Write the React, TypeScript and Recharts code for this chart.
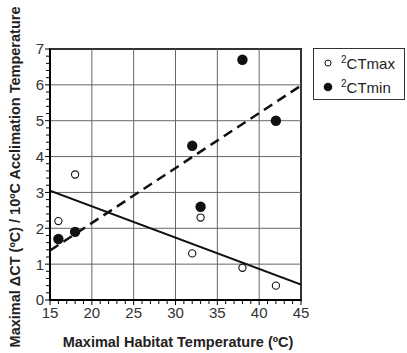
import React from 'react';
import {
  ComposedChart, XAxis, YAxis, Scatter, Line, ReferenceLine, ReferenceArea, Legend, Label,
} from 'recharts';

const xMajor = [15, 20, 25, 30, 35, 40, 45];
const yMajor = [0, 1, 2, 3, 4, 5, 6, 7];

const habitatTemp = [16, 18, 32, 33, 38, 42];
const ctMax = [2.2, 3.5, 1.3, 2.3, 0.9, 0.4];
const ctMin = [1.7, 1.9, 4.3, 2.6, 6.7, 5.0];

const fitX = [15, 45];
const ctMaxFit = [3.05, 0.43];
const ctMinFit = [1.38, 5.98];

// minor ticks: 1 unit on x, 0.2 on y
const xTicks: number[] = [];
for (let v = 15; v <= 45; v++) xTicks.push(v);
const yTicks: number[] = [];
for (let k = 0; k <= 35; k++) yTicks.push(Math.round(k * 2) / 10);

const maxData = habitatTemp.map((x, i) => ({ x, y: ctMax[i] }));
const minData = habitatTemp.map((x, i) => ({ x, y: ctMin[i] }));
const maxFitData = fitX.map((x, i) => ({ x, y: ctMaxFit[i] }));
const minFitData = fitX.map((x, i) => ({ x, y: ctMinFit[i] }));

const FONT = "Arial, 'Liberation Sans', sans-serif";
const isMajor = (v: number) => Math.abs(v - Math.round(v)) < 1e-6;

const XTick = (props: any) => {
  const { x, y, payload } = props;
  const major = xMajor.includes(payload.value);
  return (
    <g>
      <line x1={x} y1={y} x2={x} y2={y + (major ? 5 : 4)} stroke="#000" strokeWidth={1} />
      {major && (
        <text x={x} y={y + 18} textAnchor="middle" fontSize={15} fontFamily={FONT} fill="#333">
          {payload.value}
        </text>
      )}
    </g>
  );
};

const YTick = (props: any) => {
  const { x, y, payload } = props;
  const major = isMajor(payload.value) && yMajor.includes(Math.round(payload.value));
  return (
    <g>
      <line x1={x - (major ? 5 : 4)} y1={y} x2={x} y2={y} stroke="#000" strokeWidth={1} />
      {major && (
        <text x={x - 6} y={y} dy="0.36em" textAnchor="end" fontSize={15} fontFamily={FONT} fill="#333">
          {Math.round(payload.value)}
        </text>
      )}
    </g>
  );
};

const openDot = (p: any) => (
  <circle cx={p.cx} cy={p.cy} r={3.6} fill="#fff" stroke="#111" strokeWidth={1.1} />
);
const fullDot = (p: any) => <circle cx={p.cx} cy={p.cy} r={5.2} fill="#111" />;

const renderLegend = () => (
  <div
    style={{
      boxSizing: 'border-box', width: 92, height: 52, border: '1px solid #333',
      fontFamily: FONT, fontSize: 15, color: '#222', background: '#fff',
    }}
  >
    <div style={{ display: 'flex', alignItems: 'center', height: 24, marginTop: 2 }}>
      <svg width={27} height={12}><circle cx={14} cy={6} r={3} fill="#fff" stroke="#111" /></svg>
      <span><span style={{ fontSize: 10, verticalAlign: 'super', lineHeight: 0 }}>2</span>CTmax</span>
    </div>
    <div style={{ display: 'flex', alignItems: 'center', height: 24 }}>
      <svg width={27} height={12}><circle cx={14} cy={6} r={4.3} fill="#111" /></svg>
      <span><span style={{ fontSize: 10, verticalAlign: 'super', lineHeight: 0 }}>2</span>CTmin</span>
    </div>
  </div>
);

const xTitle = () => (
  <text x={178} y={347} textAnchor="middle" fontSize={14.5} fontWeight="bold" fontFamily={FONT} fill="#222">
    Maximal Habitat Temperature (ºC)
  </text>
);

const yTitle = () => (
  <text transform="translate(20,177) rotate(-90)" textAnchor="middle" fontSize={14.5} fontWeight="bold" fontFamily={FONT} fill="#222">
    Maximal ΔCT (ºC) / 10ºC Acclimation Temperature
  </text>
);

export default function App() {
  return (
    <div style={{ position: 'absolute', left: 0, top: 0, background: '#fff' }}>
      <ComposedChart width={407} height={353} margin={{ top: 49, right: 106, bottom: 23, left: 0 }}>
        <XAxis
          type="number" dataKey="x" domain={[15, 45]} ticks={xTicks} interval={0}
          allowDataOverflow height={30} tickSize={0} tickMargin={0} tickLine={false}
          axisLine={{ stroke: '#000', strokeWidth: 2 }} tick={<XTick />}
        >
          <Label content={xTitle} />
        </XAxis>
        <YAxis
          type="number" dataKey="y" domain={[0, 7]} ticks={yTicks} interval={0}
          allowDataOverflow width={50} tickSize={0} tickMargin={0} tickLine={false}
          axisLine={{ stroke: '#000', strokeWidth: 2 }} tick={<YTick />}
        >
          <Label content={yTitle} />
        </YAxis>
        {xMajor.map((v) => (
          <ReferenceLine key={'gx' + v} x={v} stroke="#666" strokeWidth={1} />
        ))}
        {yMajor.map((v) => (
          <ReferenceLine key={'gy' + v} y={v} stroke="#666" strokeWidth={1} />
        ))}
        <ReferenceArea x1={15} x2={45} y1={0} y2={7} fill="none" stroke="#000" strokeWidth={2} />
        <Line
          data={maxFitData} dataKey="y" type="linear" stroke="#111" strokeWidth={2}
          dot={false} isAnimationActive={false} legendType="none"
        />
        <Line
          data={minFitData} dataKey="y" type="linear" stroke="#111" strokeWidth={2.5}
          strokeDasharray="10 6" dot={false} isAnimationActive={false} legendType="none"
        />
        <Scatter name="CTmax" data={maxData} dataKey="y" shape={openDot} isAnimationActive={false} />
        <Scatter name="CTmin" data={minData} dataKey="y" shape={fullDot} isAnimationActive={false} />
        <Legend
          layout="horizontal" verticalAlign="middle" align="center"
          wrapperStyle={{ left: 313, top: 48, width: 92, height: 52 }}
          content={renderLegend}
        />
      </ComposedChart>
    </div>
  );
}
